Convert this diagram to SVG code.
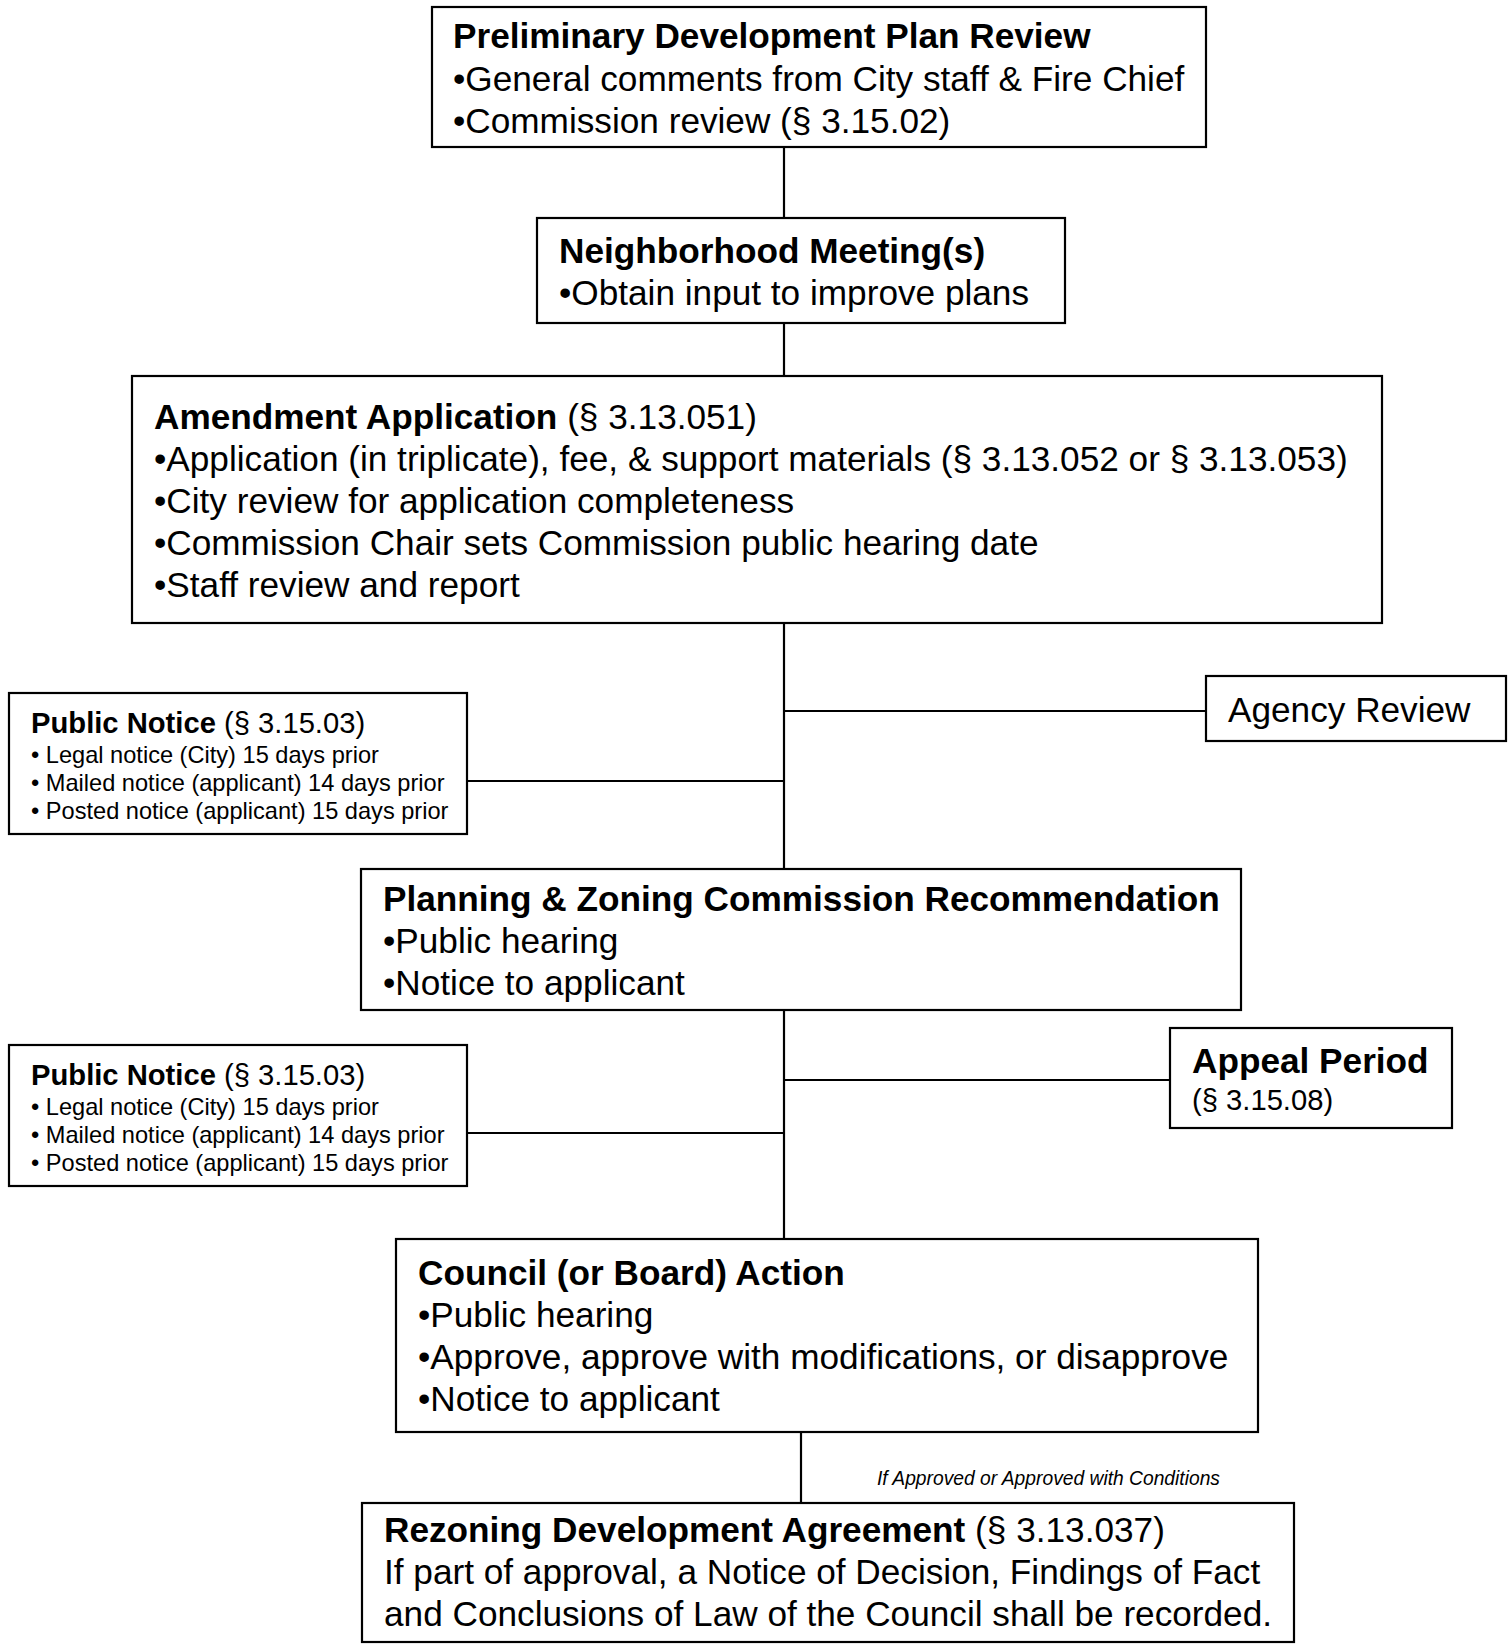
<svg xmlns="http://www.w3.org/2000/svg" width="1512" height="1644" viewBox="0 0 1512 1644">
  <style>
    .box { fill: #ffffff; stroke: #000000; stroke-width: 2.2; }
    .wire { fill: none; stroke: #000000; stroke-width: 2.2; }
    text { font-family: "Liberation Sans", Arial, sans-serif; fill: #000000; }
    .big { font-size: 35.2px; }
    .mid { font-size: 29.2px; }
    .small { font-size: 23.6px; }
    .b { font-weight: bold; }
    .note { font-size: 21px; font-style: italic; }
  </style>
  <rect width="1512" height="1644" fill="#ffffff"/>

  <!-- connectors -->
  <g id="connectors">
    <line class="wire" x1="784" y1="147" x2="784" y2="218"/>
    <line class="wire" x1="784" y1="323" x2="784" y2="376"/>
    <line class="wire" x1="784" y1="623" x2="784" y2="869"/>
    <line class="wire" x1="784" y1="711" x2="1206" y2="711"/>
    <line class="wire" x1="467" y1="781" x2="784" y2="781"/>
    <line class="wire" x1="784" y1="1010" x2="784" y2="1239"/>
    <line class="wire" x1="784" y1="1080" x2="1170" y2="1080"/>
    <line class="wire" x1="467" y1="1133" x2="784" y2="1133"/>
    <line class="wire" x1="801" y1="1432" x2="801" y2="1503"/>
    <text class="note" x="877" y="1485" textLength="343" lengthAdjust="spacingAndGlyphs">If Approved or Approved with Conditions</text>
  </g>

  <g id="preliminary-review">
    <rect class="box" x="432" y="7" width="774" height="140"/>
    <text class="big b" x="453" y="48">Preliminary Development Plan Review</text>
    <text class="big" x="453" y="91">•General comments from City staff &amp; Fire Chief</text>
    <text class="big" x="453" y="133">•Commission review (§ 3.15.02)</text>
  </g>

  <g id="neighborhood-meeting">
    <rect class="box" x="537" y="218" width="528" height="105"/>
    <text class="big b" x="559" y="263">Neighborhood Meeting(s)</text>
    <text class="big" x="559" y="305">•Obtain input to improve plans</text>
  </g>

  <g id="amendment-application">
    <rect class="box" x="132" y="376" width="1250" height="247"/>
    <text class="big" x="154" y="429"><tspan class="b">Amendment Application</tspan> (§ 3.13.051)</text>
    <text class="big" x="154" y="471">•Application (in triplicate), fee, &amp; support materials (§ 3.13.052 or § 3.13.053)</text>
    <text class="big" x="154" y="513">•City review for application completeness</text>
    <text class="big" x="154" y="555">•Commission Chair sets Commission public hearing date</text>
    <text class="big" x="154" y="597">•Staff review and report</text>
  </g>

  <g id="agency-review">
    <rect class="box" x="1206" y="676" width="300" height="65"/>
    <text class="big" x="1228" y="722">Agency Review</text>
  </g>

  <g id="public-notice-1">
    <rect class="box" x="9" y="693" width="458" height="141"/>
    <text class="mid" x="31" y="733"><tspan class="b">Public Notice</tspan> (§ 3.15.03)</text>
    <text class="small" x="31" y="763">• Legal notice (City) 15 days prior</text>
    <text class="small" x="31" y="791">• Mailed notice (applicant) 14 days prior</text>
    <text class="small" x="31" y="819">• Posted notice (applicant) 15 days prior</text>
  </g>

  <g id="commission-recommendation">
    <rect class="box" x="361" y="869" width="880" height="141"/>
    <text class="big b" x="383" y="911">Planning &amp; Zoning Commission Recommendation</text>
    <text class="big" x="383" y="953">•Public hearing</text>
    <text class="big" x="383" y="995">•Notice to applicant</text>
  </g>

  <g id="appeal-period">
    <rect class="box" x="1170" y="1028" width="282" height="100"/>
    <text class="big b" x="1192" y="1073">Appeal Period</text>
    <text class="mid" x="1192" y="1110">(§ 3.15.08)</text>
  </g>

  <g id="public-notice-2">
    <rect class="box" x="9" y="1045" width="458" height="141"/>
    <text class="mid" x="31" y="1085"><tspan class="b">Public Notice</tspan> (§ 3.15.03)</text>
    <text class="small" x="31" y="1115">• Legal notice (City) 15 days prior</text>
    <text class="small" x="31" y="1143">• Mailed notice (applicant) 14 days prior</text>
    <text class="small" x="31" y="1171">• Posted notice (applicant) 15 days prior</text>
  </g>

  <g id="council-action">
    <rect class="box" x="396" y="1239" width="862" height="193"/>
    <text class="big b" x="418" y="1285">Council (or Board) Action</text>
    <text class="big" x="418" y="1327">•Public hearing</text>
    <text class="big" x="418" y="1369">•Approve, approve with modifications, or disapprove</text>
    <text class="big" x="418" y="1411">•Notice to applicant</text>
  </g>

  <g id="development-agreement">
    <rect class="box" x="362" y="1503" width="932" height="139"/>
    <text class="big" x="384" y="1542"><tspan class="b">Rezoning Development Agreement</tspan> (§ 3.13.037)</text>
    <text class="big" x="384" y="1584">If part of approval, a Notice of Decision, Findings of Fact</text>
    <text class="big" x="384" y="1626">and Conclusions of Law of the Council shall be recorded.</text>
  </g>
</svg>
